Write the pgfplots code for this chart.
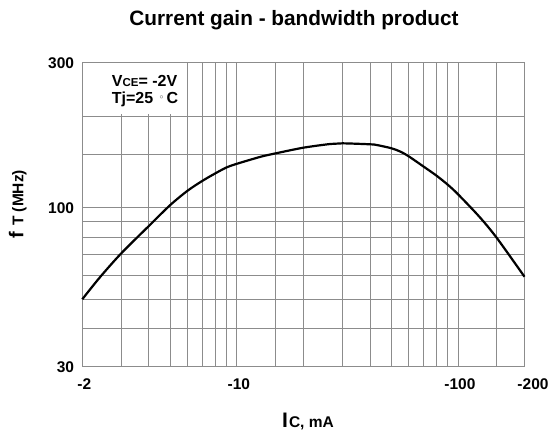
\documentclass[border=0pt]{standalone}
\usepackage{fontspec}
\setmainfont{Liberation Sans}
\usepackage{pgfplots}
\pgfplotsset{compat=1.18}
\begin{document}
\begin{tikzpicture}
\begin{axis}[
  at={(0pt,0pt)}, anchor=south west,
  scale only axis, width=442.2pt, height=304pt,
  xmode=log, ymode=log,
  xmin=2, xmax=200, ymin=30, ymax=300,
  xtick={2,10,100,200}, xticklabels={-2,-10,-100,\hspace{13pt}-200},
  ytick={30,100,300}, yticklabels={30,100,300},
  minor xtick={3,4,5,6,7,8,9,10,15,20,30,40,50,60,70,80,90,100,150},
  minor ytick={40,50,60,70,80,90,100,150,200},
  xminorgrids, yminorgrids, xmajorgrids=false, ymajorgrids=false,
  major tick length=0pt, minor tick length=0pt,
  minor grid style={black!45, line width=0.8pt},
  axis line style={black!45, line width=0.8pt},
  /pgf/number format/assume math mode=true,
  ticklabel style={font=\fontsize{15.5}{15.5}\selectfont\bfseries},
  xticklabel style={anchor=north, inner sep=0pt, yshift=-12pt, xshift=2pt},
  yticklabel style={anchor=east, inner sep=0pt, xshift=-8pt},
  clip=false,
]
\node[fill=white, inner sep=0pt, minimum width=101pt, minimum height=50.5pt, anchor=north west, xshift=0.6pt, yshift=-0.6pt] at (rel axis cs:0,1) {};
\addplot[black, line width=2.2pt, smooth] coordinates {
(2,50.0) (2.4,59.0) (3,70.8) (4,87.1) (5,102.1) (6,113.9) (7,122.7) (8,129.8) (9,135.8)
(10,139.5) (12.8,147.1) (15,151.0) (20,157.6) (26.5,162.1) (30,162.9) (40,161.7)
(43,160.8) (50,156.9) (55,152.9) (60,147.5) (70,136.5) (80,127.5) (90,119.0) (100,110.8)
(125,93.4) (150,79.5) (200,59.3)
};
\end{axis}
\node[anchor=base, inner sep=0pt, font=\fontsize{20.8}{20.8}\selectfont\bfseries] at (211.7pt,341.7pt) {Current gain - bandwidth product};
\node[anchor=base west, inner sep=0pt, font=\bfseries] at (29.4pt,280.7pt) {{\fontsize{16}{16}\selectfont V}{\fontsize{11.5}{11.5}\selectfont CE}{\fontsize{16}{16}\selectfont = -2V}};
\node[anchor=base west, inner sep=0pt, font=\bfseries] at (29.4pt,263.7pt) {{\fontsize{16}{16}\selectfont Tj=25\hspace{6pt}}{\fontsize{11}{11}\selectfont\mdseries\color{black!45}°}{\fontsize{16}{16}\selectfont\hspace{3pt}C}};
\node[anchor=base, inner sep=0pt, rotate=90, font=\bfseries] at (-58.8pt,162.7pt) {{\fontsize{20}{20}\selectfont f }{\fontsize{15.5}{15.5}\selectfont T (MHz)}};
\node[anchor=base, inner sep=0pt, font=\bfseries] at (225.7pt,-60.3pt) {{\fontsize{21}{21}\selectfont I\hspace{1pt}}{\fontsize{15.5}{15.5}\selectfont C, mA}};
\pgfresetboundingbox
\path (-82.3pt,-65.5pt) rectangle (467.7pt,366.7pt);
\end{tikzpicture}
\end{document}
